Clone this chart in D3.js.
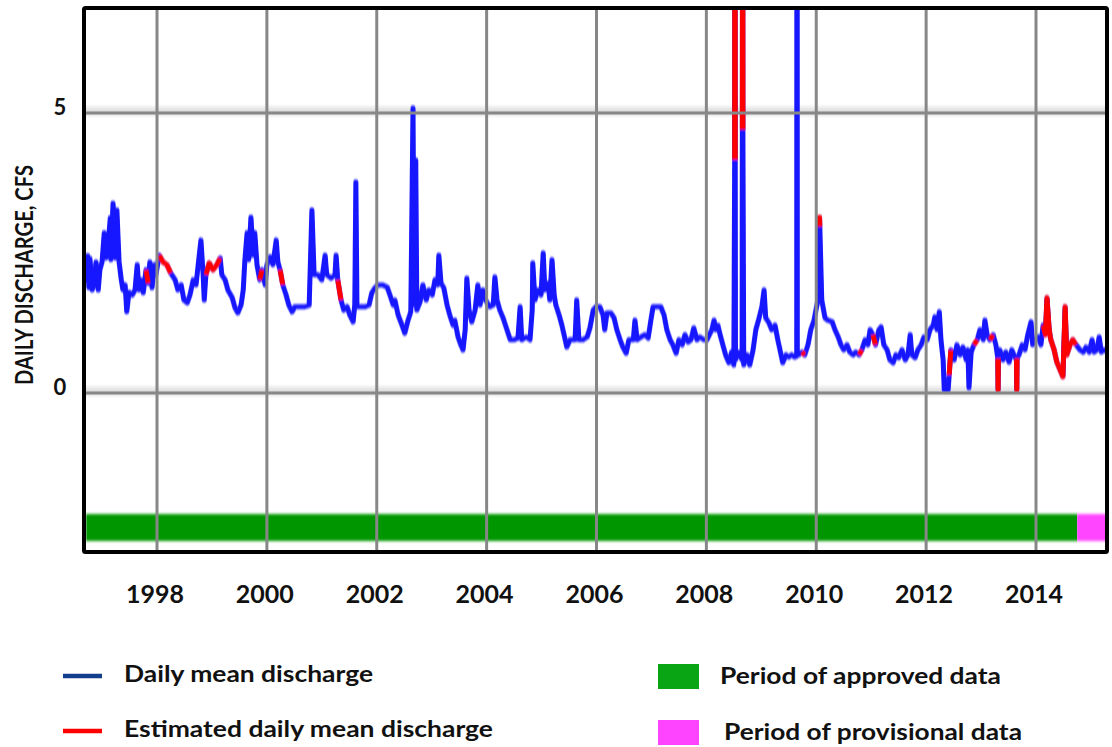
<!DOCTYPE html>
<html>
<head>
<meta charset="utf-8">
<script src="https://cdn.jsdelivr.net/npm/d3@7"></script>
<style>
  body { margin: 0; background: #fff; }
  text { font-family: "Lato", "Open Sans", sans-serif; font-weight: 700; fill: #111; }
</style>
</head>
<body>
<svg id="chart" width="1112" height="747"></svg>
<script>
// ---- Data ---------------------------------------------------------------
// Year ticks along the bottom axis and value ticks on the left.
const yearTicks = [1998, 2000, 2002, 2004, 2006, 2008, 2010, 2012, 2014];
const valueTicks = [0, 5];

// Daily mean discharge, cfs, as [decimal year, value].
const discharge1997 = [
  [1996.71, 1.96], [1996.74, 2.45], [1996.76, 1.88], [1996.78, 2.40], [1996.82, 1.84],
  [1996.85, 1.93], [1996.89, 2.34], [1996.93, 1.84], [1996.96, 2.20], [1997.00, 2.34],
  [1997.04, 2.86], [1997.07, 2.41], [1997.11, 2.64], [1997.15, 3.13], [1997.16, 2.38],
  [1997.20, 3.39], [1997.24, 2.41], [1997.27, 3.27], [1997.31, 2.34], [1997.35, 2.02],
  [1997.38, 1.84], [1997.42, 1.93], [1997.45, 1.45], [1997.49, 1.80], [1997.55, 1.75],
  [1997.60, 1.84], [1997.64, 2.29], [1997.67, 1.84], [1997.71, 2.02], [1997.75, 1.79],
  [1997.80, 2.20], [1997.84, 1.96], [1997.87, 2.34], [1997.91, 1.88], [1997.95, 2.29],
  [1997.98, 2.11]
];
const discharge1999 = [
  [1998.04, 2.46], [1998.11, 2.34], [1998.18, 2.29], [1998.25, 2.14], [1998.33, 2.02],
  [1998.38, 1.84], [1998.44, 1.93], [1998.49, 1.66], [1998.55, 1.61], [1998.60, 1.75],
  [1998.66, 2.02], [1998.71, 1.93], [1998.76, 2.38], [1998.80, 2.73], [1998.84, 2.11],
  [1998.86, 1.66], [1998.89, 2.11], [1998.95, 2.32], [1999.02, 2.20], [1999.09, 2.29],
  [1999.15, 2.41], [1999.18, 2.11], [1999.24, 2.02], [1999.29, 1.84], [1999.37, 1.70],
  [1999.42, 1.52], [1999.47, 1.43], [1999.53, 1.57], [1999.57, 1.84], [1999.60, 2.38],
  [1999.64, 2.86], [1999.67, 2.38], [1999.71, 3.14], [1999.75, 2.46], [1999.78, 2.86],
  [1999.82, 2.29], [1999.87, 2.02], [1999.91, 2.20], [1999.97, 1.93], [2000.00, 2.29]
];
const discharge2001 = [
  [2000.06, 2.43], [2000.11, 2.29], [2000.17, 2.73], [2000.20, 2.34], [2000.24, 2.20],
  [2000.29, 1.93], [2000.35, 1.75], [2000.40, 1.57], [2000.46, 1.45], [2000.51, 1.54],
  [2000.60, 1.54], [2000.69, 1.54], [2000.77, 1.57], [2000.82, 3.27], [2000.86, 2.11],
  [2000.93, 2.11], [2001.00, 2.02], [2001.06, 2.46], [2001.09, 2.11], [2001.17, 2.05],
  [2001.24, 2.11], [2001.26, 2.46], [2001.29, 2.02], [2001.35, 1.66], [2001.40, 1.48],
  [2001.46, 1.54], [2001.51, 1.39], [2001.57, 1.27], [2001.60, 1.57], [2001.62, 3.77],
  [2001.64, 1.54], [2001.71, 1.54], [2001.79, 1.54], [2001.86, 1.57], [2001.91, 1.79],
  [2001.97, 1.88]
];
const discharge2003 = [
  [2002.02, 1.93], [2002.11, 1.93], [2002.19, 1.89], [2002.24, 1.75], [2002.30, 1.57],
  [2002.33, 1.66], [2002.39, 1.39], [2002.46, 1.21], [2002.51, 1.07], [2002.57, 1.30],
  [2002.62, 1.45], [2002.66, 5.09], [2002.68, 1.57], [2002.71, 4.16], [2002.73, 1.48],
  [2002.79, 1.63], [2002.84, 1.93], [2002.90, 1.66], [2002.95, 1.84], [2003.01, 1.75],
  [2003.06, 2.02], [2003.11, 1.93], [2003.13, 2.46], [2003.17, 1.96], [2003.22, 1.88],
  [2003.28, 1.57], [2003.33, 1.39], [2003.39, 1.21], [2003.42, 1.30], [2003.48, 1.00],
  [2003.53, 0.86], [2003.57, 0.77], [2003.61, 1.13], [2003.64, 2.05], [2003.68, 1.48],
  [2003.73, 1.27], [2003.79, 1.48], [2003.84, 1.93], [2003.88, 1.57], [2003.93, 1.84],
  [2003.98, 1.66]
];
const discharge2005 = [
  [2004.06, 1.54], [2004.12, 1.57], [2004.15, 2.07], [2004.19, 1.66], [2004.24, 1.48],
  [2004.30, 1.34], [2004.37, 1.13], [2004.43, 0.95], [2004.50, 0.95], [2004.57, 0.98],
  [2004.61, 1.54], [2004.64, 0.95], [2004.72, 1.00], [2004.79, 0.95], [2004.83, 1.48],
  [2004.84, 2.32], [2004.88, 1.66], [2004.93, 1.84], [2004.99, 1.75], [2005.03, 2.50],
  [2005.06, 1.84], [2005.12, 1.96], [2005.15, 1.66], [2005.19, 2.38], [2005.23, 1.75],
  [2005.26, 1.57], [2005.32, 1.39], [2005.37, 1.21], [2005.43, 0.95], [2005.46, 0.82],
  [2005.52, 0.95], [2005.61, 0.95], [2005.64, 1.66], [2005.68, 0.95], [2005.75, 0.95],
  [2005.83, 1.00], [2005.88, 1.16], [2005.94, 1.48], [2005.99, 1.54]
];
const discharge2007 = [
  [2006.06, 1.54], [2006.12, 1.39], [2006.15, 1.13], [2006.19, 1.43], [2006.26, 1.43],
  [2006.32, 1.34], [2006.37, 1.13], [2006.43, 0.95], [2006.48, 0.82], [2006.54, 0.71],
  [2006.59, 0.95], [2006.67, 0.95], [2006.70, 1.30], [2006.74, 0.95], [2006.81, 1.00],
  [2006.88, 1.04], [2006.94, 0.98], [2006.99, 1.30], [2007.03, 1.54], [2007.10, 1.54],
  [2007.17, 1.54], [2007.23, 1.39], [2007.28, 1.13], [2007.34, 0.95], [2007.39, 0.86],
  [2007.45, 0.71], [2007.50, 0.95], [2007.56, 0.86], [2007.61, 1.04], [2007.67, 0.91],
  [2007.72, 0.95], [2007.77, 1.16], [2007.83, 0.95], [2007.88, 1.00], [2007.96, 0.95],
  [2008.01, 0.95]
];
const discharge2009 = [
  [2008.10, 1.13], [2008.14, 1.30], [2008.17, 1.13], [2008.21, 1.21], [2008.25, 1.04],
  [2008.30, 0.86], [2008.35, 0.68], [2008.41, 0.54], [2008.46, 0.73], [2008.50, 0.50],
  [2008.515, 4.16], [2008.52, 12.0], [2008.525, 4.16], [2008.53, 0.59], [2008.58, 0.73],
  [2008.65, 0.59], [2008.655, 4.70], [2008.66, 12.0], [2008.665, 4.70], [2008.68, 0.50],
  [2008.74, 0.68], [2008.79, 0.50], [2008.85, 0.77], [2008.90, 1.13], [2008.96, 1.34],
  [2009.01, 1.54], [2009.05, 1.84], [2009.08, 1.34], [2009.14, 1.25], [2009.19, 1.13],
  [2009.25, 1.21], [2009.30, 0.95], [2009.36, 0.68], [2009.39, 0.54], [2009.45, 0.68],
  [2009.50, 0.64], [2009.55, 0.68], [2009.61, 0.64], [2009.645, 0.66], [2009.65, 20.0],
  [2009.655, 0.68], [2009.68, 0.68], [2009.74, 0.73], [2009.79, 0.68], [2009.85, 0.86],
  [2009.90, 1.13], [2009.96, 1.30]
];
const discharge2011 = [
  [2010.03, 1.66], [2010.055, 2.97], [2010.06, 3.14], [2010.065, 2.97], [2010.10, 1.66],
  [2010.16, 1.34], [2010.21, 1.30], [2010.29, 1.27], [2010.34, 1.13], [2010.40, 1.00],
  [2010.45, 0.86], [2010.50, 0.77], [2010.56, 0.86], [2010.61, 0.73], [2010.67, 0.68],
  [2010.72, 0.73], [2010.78, 0.68], [2010.83, 0.77], [2010.89, 0.95], [2010.94, 0.86],
  [2010.98, 1.13], [2011.03, 1.04], [2011.08, 0.86], [2011.14, 1.13], [2011.18, 1.18],
  [2011.23, 0.86], [2011.29, 0.77], [2011.34, 0.59], [2011.40, 0.54], [2011.45, 0.68],
  [2011.50, 0.63], [2011.56, 0.77], [2011.62, 0.59], [2011.67, 0.68], [2011.71, 1.04],
  [2011.74, 0.68], [2011.80, 0.63], [2011.85, 0.77], [2011.91, 0.86], [2011.96, 1.00]
];
const discharge2013 = [
  [2012.02, 0.95], [2012.07, 1.13], [2012.13, 1.21], [2012.16, 1.36], [2012.20, 1.13],
  [2012.24, 1.45], [2012.27, 0.95], [2012.31, 0.59], [2012.33, 0.05], [2012.40, 0.05],
  [2012.42, 0.32], [2012.45, 0.77], [2012.51, 0.59], [2012.56, 0.86], [2012.62, 0.68],
  [2012.67, 0.82], [2012.73, 0.59], [2012.76, 0.77], [2012.78, 0.09], [2012.82, 0.73],
  [2012.87, 0.86], [2012.93, 0.95], [2012.98, 1.13], [2013.04, 0.95], [2013.07, 1.30],
  [2013.11, 1.04], [2013.16, 0.95], [2013.22, 1.04], [2013.27, 0.86], [2013.305, 0.62],
  [2013.31, 0.05], [2013.315, 0.62], [2013.34, 0.77], [2013.40, 0.59], [2013.45, 0.73],
  [2013.51, 0.55], [2013.56, 0.77], [2013.62, 0.63], [2013.645, 0.60], [2013.65, 0.05],
  [2013.655, 0.62], [2013.69, 0.68], [2013.75, 0.86], [2013.80, 0.77], [2013.85, 1.04],
  [2013.91, 1.27], [2013.94, 0.86], [2013.98, 0.95]
];
const discharge2015 = [
  [2014.04, 1.00], [2014.09, 0.86], [2014.13, 1.21], [2014.17, 1.04], [2014.20, 1.70],
  [2014.24, 1.13], [2014.27, 0.95], [2014.33, 0.77], [2014.38, 0.55], [2014.44, 0.41],
  [2014.49, 0.29], [2014.53, 1.54], [2014.56, 0.68], [2014.62, 0.86], [2014.67, 0.95],
  [2014.73, 0.86], [2014.80, 0.77], [2014.86, 0.73], [2014.91, 0.82], [2014.97, 0.73],
  [2015.02, 0.95], [2015.06, 0.73], [2015.11, 0.77], [2015.15, 1.00], [2015.19, 0.73],
  [2015.24, 0.77], [2015.29, 0.74]
];

// Spans (decimal years) where the daily value is estimated.
const estimatedSpans = [
  [1997.79, 1997.85], [1998.03, 1998.26], [1998.88, 1999.16], [1999.86, 1999.92],
  [2000.23, 2000.30], [2001.28, 2001.36], [2008.514, 2008.526], [2008.654, 2008.666],
  [2009.73, 2009.80], [2010.054, 2010.066], [2010.77, 2010.84], [2011.02, 2011.09],
  [2012.41, 2012.46], [2012.86, 2012.94], [2013.15, 2013.23], [2013.304, 2013.316],
  [2013.644, 2013.656], [2013.93, 2013.95], [2014.12, 2014.74]
];

// Approval status periods (decimal years).
const approvedPeriod = [1996.75, 2014.75];
const provisionalPeriod = [2014.75, 2015.35];

const legendLines = ["Daily mean discharge", "Estimated daily mean discharge"];
const legendBoxes = ["Period of approved data", "Period of provisional data"];
const yTitle = "DAILY DISCHARGE, CFS";

// ---- Drawing ------------------------------------------------------------
const discharge = [].concat(discharge1997, discharge1999, discharge2001, discharge2003,
  discharge2005, discharge2007, discharge2009, discharge2011, discharge2013, discharge2015);
const isEstimated = t => estimatedSpans.some(([a, b]) => t >= a && t <= b);

const svg = d3.select("#chart");
const plot = { left: 84, right: 1107, top: 8, bottom: 552 };

const x = d3.scaleLinear().domain([1998, 2014]).range([157, 1036]);
const y = d3.scaleLinear().domain([0, 5]).range([393, 113]);

const defs = svg.append("defs");
defs.append("clipPath").attr("id", "plotClip")
  .append("rect")
  .attr("x", plot.left).attr("y", plot.top)
  .attr("width", plot.right - plot.left).attr("height", plot.bottom - plot.top);

const soft = defs.append("filter").attr("id", "soft")
  .attr("filterUnits", "userSpaceOnUse")
  .attr("x", 0).attr("y", 0).attr("width", 1112).attr("height", 747);
soft.append("feGaussianBlur").attr("stdDeviation", "0.5 1.1");

const barBlur = defs.append("filter").attr("id", "barBlur")
  .attr("filterUnits", "userSpaceOnUse")
  .attr("x", 0).attr("y", 480).attr("width", 1112).attr("height", 100);
barBlur.append("feGaussianBlur").attr("stdDeviation", "0 1.7");

const hazeUp = defs.append("linearGradient").attr("id", "hazeUp")
  .attr("x1", 0).attr("y1", 0).attr("x2", 0).attr("y2", 1);
hazeUp.append("stop").attr("offset", 0).attr("stop-color", "#ffffff");
hazeUp.append("stop").attr("offset", 1).attr("stop-color", "#d2d2d2");
const hazeDown = defs.append("linearGradient").attr("id", "hazeDown")
  .attr("x1", 0).attr("y1", 0).attr("x2", 0).attr("y2", 1);
hazeDown.append("stop").attr("offset", 0).attr("stop-color", "#dcdcdc");
hazeDown.append("stop").attr("offset", 1).attr("stop-color", "#ffffff");

const inner = svg.append("g").attr("clip-path", "url(#plotClip)");

// Soft shading along the horizontal grid lines
inner.selectAll("rect.haze-up").data(valueTicks).join("rect")
  .attr("class", "haze-up")
  .attr("x", plot.left).attr("width", plot.right - plot.left)
  .attr("y", d => y(d) - 9).attr("height", 9)
  .attr("fill", "url(#hazeUp)");
inner.selectAll("rect.haze-down").data(valueTicks).join("rect")
  .attr("class", "haze-down")
  .attr("x", plot.left).attr("width", plot.right - plot.left)
  .attr("y", d => y(d)).attr("height", 5)
  .attr("fill", "url(#hazeDown)");

// Approval status band
const band = inner.append("g").attr("filter", "url(#barBlur)");
band.append("rect")
  .attr("x", x(approvedPeriod[0]) - 2).attr("width", x(approvedPeriod[1]) - x(approvedPeriod[0]) + 2)
  .attr("y", 514).attr("height", 27)
  .attr("fill", "#009600");
band.append("rect")
  .attr("x", x(provisionalPeriod[0])).attr("width", x(provisionalPeriod[1]) - x(provisionalPeriod[0]))
  .attr("y", 514).attr("height", 27)
  .attr("fill", "#ff44ff");

// Discharge lines
const line = d3.line().x(d => x(d[0])).y(d => y(d[1]));
const lines = inner.append("g").attr("filter", "url(#soft)");
lines.append("path")
  .attr("d", line(discharge))
  .attr("fill", "none")
  .attr("stroke", "#1414ff")
  .attr("stroke-width", 5)
  .attr("stroke-linejoin", "round");
lines.append("path")
  .attr("d", line.defined(d => isEstimated(d[0]))(discharge))
  .attr("fill", "none")
  .attr("stroke", "#ff0000")
  .attr("stroke-width", 5)
  .attr("stroke-linejoin", "round");

// Grid lines (drawn over the data)
inner.selectAll("line.vgrid").data(yearTicks).join("line")
  .attr("class", "vgrid")
  .attr("x1", d => x(d)).attr("x2", d => x(d))
  .attr("y1", plot.top).attr("y2", plot.bottom)
  .attr("stroke", "#878787").attr("stroke-width", 3);
inner.selectAll("line.hgrid").data(valueTicks).join("line")
  .attr("class", "hgrid")
  .attr("x1", plot.left).attr("x2", plot.right)
  .attr("y1", d => y(d)).attr("y2", d => y(d))
  .attr("stroke", "#878787").attr("stroke-width", 3);

// Frame
svg.append("rect")
  .attr("x", plot.left).attr("y", plot.top)
  .attr("width", plot.right - plot.left).attr("height", plot.bottom - plot.top)
  .attr("fill", "none").attr("stroke", "#000").attr("stroke-width", 4)
  .attr("rx", 1.5);

// Axis labels
svg.selectAll("text.year").data(yearTicks).join("text")
  .attr("class", "year")
  .attr("x", d => x(d) - 2).attr("y", 603)
  .attr("text-anchor", "middle")
  .attr("font-size", 25)
  .text(d => d);

svg.selectAll("text.value").data(valueTicks).join("text")
  .attr("class", "value")
  .attr("x", 60).attr("y", d => y(d) + 2)
  .attr("text-anchor", "middle")
  .attr("font-size", 22)
  .text(d => d);

svg.append("text")
  .attr("transform", "translate(33,275) rotate(-90)")
  .attr("text-anchor", "middle")
  .attr("font-size", 24)
  .attr("textLength", 220).attr("lengthAdjust", "spacingAndGlyphs")
  .text(yTitle);

// Legend
const lineColors = ["#133e8c", "#ff0000"];
const lineRows = [676, 731];
const lineWidths = [249, 369];
legendLines.forEach((label, i) => {
  svg.append("line")
    .attr("x1", 63).attr("x2", 102)
    .attr("y1", lineRows[i]).attr("y2", lineRows[i])
    .attr("stroke", lineColors[i]).attr("stroke-width", 4.5);
  svg.append("text")
    .attr("x", 124).attr("y", lineRows[i] + 6)
    .attr("font-size", 22)
    .attr("textLength", lineWidths[i]).attr("lengthAdjust", "spacingAndGlyphs")
    .text(label);
});

const boxColors = ["#0aa514", "#ff44ff"];
const boxTops = [664, 720];
const boxTextX = [720, 724];
const boxWidths = [281, 298];
legendBoxes.forEach((label, i) => {
  svg.append("rect")
    .attr("x", 658).attr("y", boxTops[i])
    .attr("width", 41).attr("height", 25)
    .attr("fill", boxColors[i]);
  svg.append("text")
    .attr("x", boxTextX[i]).attr("y", boxTops[i] + 20)
    .attr("font-size", 22)
    .attr("textLength", boxWidths[i]).attr("lengthAdjust", "spacingAndGlyphs")
    .text(label);
});
</script>
</body>
</html>
